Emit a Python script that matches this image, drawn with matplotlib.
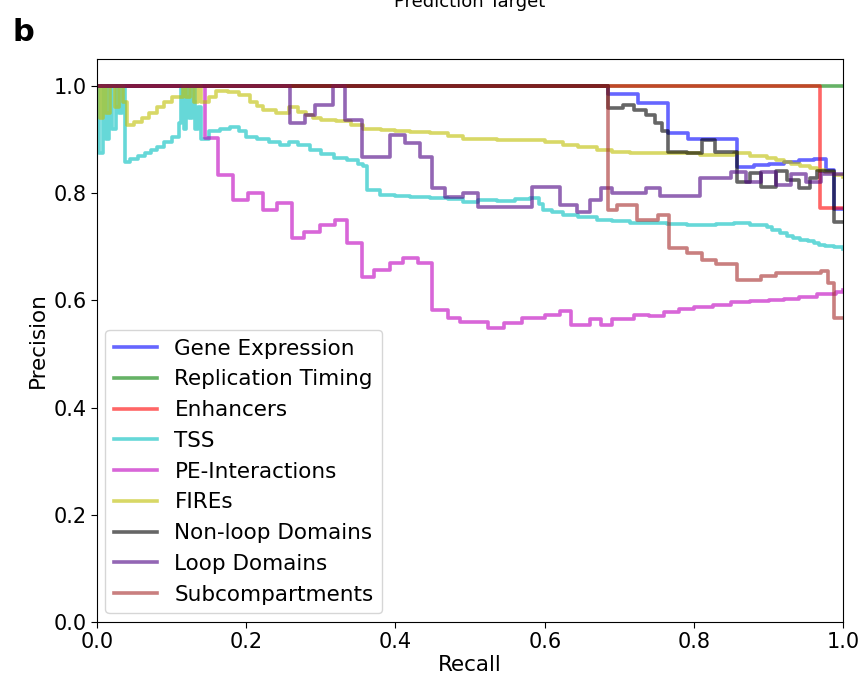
import matplotlib
matplotlib.use("Agg")
import matplotlib.pyplot as plt

labels = ["Gene Expression", "Replication Timing", "Enhancers", "TSS",
          "PE-Interactions", "FIREs", "Non-loop Domains", "Loop Domains",
          "Subcompartments"]
colors = ["b", "g", "r", "c", "m", "y", "k", "indigo", "brown"]

gene_r = [0, 0.685, 0.725, 0.765, 0.792, 0.858, 0.88, 0.90, 0.92, 0.94, 0.96, 0.977, 0.987, 1.0]
gene_p = [1.0, 0.984, 0.968, 0.912, 0.90, 0.849, 0.852, 0.855, 0.858, 0.861, 0.864, 0.843, 0.77, 0.77]

rep_r = [0, 1.0]
rep_p = [1.0, 1.0]

enh_r = [0, 0.969, 1.0]
enh_p = [1.0, 0.772, 0.772]

tss_r = [0, 0.003, 0.008, 0.012, 0.016, 0.02, 0.025, 0.03, 0.034, 0.037, 0.045, 0.055,
         0.065, 0.072, 0.08, 0.09, 0.10, 0.11, 0.113, 0.117, 0.12, 0.124, 0.128, 0.132,
         0.136, 0.14, 0.15, 0.165, 0.178, 0.19, 0.2, 0.214, 0.23, 0.245, 0.258, 0.27,
         0.285, 0.30, 0.318, 0.335, 0.35, 0.357, 0.362, 0.379, 0.40, 0.42, 0.446, 0.47,
         0.49, 0.51, 0.536, 0.56, 0.58, 0.592, 0.598, 0.61, 0.625, 0.645, 0.67, 0.69,
         0.714, 0.74, 0.764, 0.79, 0.808, 0.83, 0.853, 0.875, 0.898, 0.905, 0.915, 0.924,
         0.933, 0.942, 0.952, 0.96, 0.968, 0.975, 0.987, 1.0]
tss_p = [1.0, 0.875, 1.0, 0.9, 1.0, 0.92, 1.0, 0.95, 1.0, 0.858, 0.864, 0.87,
         0.875, 0.88, 0.885, 0.895, 0.905, 0.93, 1.0, 0.92, 1.0, 0.94, 1.0, 0.92,
         0.96, 0.9, 0.915, 0.92, 0.924, 0.915, 0.905, 0.9, 0.895, 0.89, 0.896, 0.89,
         0.88, 0.872, 0.866, 0.861, 0.855, 0.85, 0.806, 0.797, 0.795, 0.793, 0.79, 0.788,
         0.784, 0.787, 0.786, 0.788, 0.79, 0.78, 0.769, 0.765, 0.759, 0.755, 0.75, 0.747,
         0.744, 0.745, 0.742, 0.741, 0.74, 0.742, 0.744, 0.741, 0.737, 0.732, 0.726, 0.72,
         0.716, 0.713, 0.71, 0.707, 0.704, 0.702, 0.70, 0.695]

pe_r = [0, 0.145, 0.162, 0.183, 0.202, 0.223, 0.241, 0.261, 0.277, 0.299, 0.319, 0.335,
        0.355, 0.371, 0.393, 0.41, 0.43, 0.449, 0.47, 0.486, 0.524, 0.545, 0.57, 0.6,
        0.62, 0.635, 0.66, 0.675, 0.69, 0.72, 0.74, 0.76, 0.78, 0.8, 0.825, 0.85, 0.875,
        0.9, 0.92, 0.94, 0.965, 0.99, 1.0]
pe_p = [1.0, 0.903, 0.834, 0.787, 0.80, 0.769, 0.781, 0.716, 0.728, 0.74, 0.75, 0.707,
        0.644, 0.657, 0.67, 0.679, 0.67, 0.582, 0.567, 0.56, 0.548, 0.558, 0.567, 0.573,
        0.58, 0.554, 0.565, 0.553, 0.565, 0.573, 0.571, 0.578, 0.583, 0.588, 0.592, 0.597, 0.598,
        0.60, 0.603, 0.606, 0.611, 0.616, 0.62]

fires_r = [0, 0.004, 0.008, 0.012, 0.018, 0.024, 0.03, 0.035, 0.04, 0.05, 0.06, 0.07,
           0.08, 0.09, 0.10, 0.115, 0.12, 0.125, 0.13, 0.135, 0.14, 0.15, 0.16, 0.175,
           0.19, 0.205, 0.215, 0.223, 0.24, 0.258, 0.27, 0.28, 0.29, 0.30, 0.32, 0.34,
           0.357, 0.38, 0.40, 0.42, 0.446, 0.47, 0.49, 0.51, 0.536, 0.58, 0.6, 0.625,
           0.645, 0.67, 0.69, 0.714, 0.764, 0.808, 0.853, 0.875, 0.898, 0.91, 0.92, 0.93,
           0.942, 0.955, 0.965, 0.975, 0.987, 1.0]
fires_p = [1.0, 0.94, 1.0, 0.95, 1.0, 0.96, 1.0, 0.97, 0.927, 0.933, 0.94, 0.95,
           0.96, 0.97, 0.98, 1.0, 0.98, 1.0, 0.97, 1.0, 0.97, 0.98, 0.99, 0.988,
           0.983, 0.97, 0.962, 0.955, 0.95, 0.96, 0.952, 0.945, 0.94, 0.937, 0.935, 0.927,
           0.92, 0.917, 0.915, 0.913, 0.912, 0.906, 0.90, 0.9, 0.899, 0.899, 0.895, 0.89,
           0.885, 0.88, 0.877, 0.875, 0.875, 0.871, 0.875, 0.87, 0.866, 0.862, 0.858, 0.854,
           0.85, 0.846, 0.843, 0.839, 0.834, 0.83]

nonloop_r = [0, 0.685, 0.705, 0.72, 0.735, 0.748, 0.757, 0.765, 0.79, 0.81, 0.828, 0.858,
             0.875, 0.89, 0.91, 0.925, 0.94, 0.955, 0.965, 0.987, 1.0]
nonloop_p = [1.0, 0.959, 0.965, 0.955, 0.945, 0.93, 0.915, 0.877, 0.875, 0.899, 0.877, 0.82,
             0.838, 0.812, 0.842, 0.825, 0.81, 0.828, 0.842, 0.746, 0.746]

loop_r = [0, 0.259, 0.279, 0.292, 0.316, 0.333, 0.355, 0.393, 0.413, 0.433, 0.449, 0.466,
          0.49, 0.51, 0.583, 0.62, 0.643, 0.66, 0.675, 0.69, 0.735, 0.755, 0.808, 0.849,
          0.87, 0.89, 0.91, 0.93, 0.95, 0.97, 1.0]
loop_p = [1.0, 0.93, 0.945, 0.965, 1.0, 0.936, 0.868, 0.908, 0.893, 0.868, 0.81, 0.793,
          0.80, 0.774, 0.812, 0.778, 0.765, 0.787, 0.81, 0.80, 0.81, 0.795, 0.828, 0.84,
          0.82, 0.84, 0.815, 0.835, 0.82, 0.835, 0.835]

sub_r = [0, 0.685, 0.697, 0.724, 0.752, 0.766, 0.791, 0.81, 0.83, 0.858, 0.89, 0.91,
         0.97, 0.98, 0.987, 1.0]
sub_p = [1.0, 0.768, 0.778, 0.75, 0.759, 0.698, 0.688, 0.675, 0.668, 0.638, 0.645, 0.65,
         0.655, 0.632, 0.567, 0.567]

curves = [(gene_r, gene_p), (rep_r, rep_p), (enh_r, enh_p), (tss_r, tss_p),
          (pe_r, pe_p), (fires_r, fires_p), (nonloop_r, nonloop_p),
          (loop_r, loop_p), (sub_r, sub_p)]

fig = plt.figure(figsize=(8.65, 6.83), dpi=100)
ax = fig.add_axes([0.112, 0.0893, 0.863, 0.8243])

for (r, p), lab, col in zip(curves, labels, colors):
    ax.step(r, p, where="post", color=col, alpha=0.6, lw=2.6, label=lab)

ax.set_xlim(0, 1.0)
ax.set_ylim(0, 1.05)
ax.set_xticks([0, 0.2, 0.4, 0.6, 0.8, 1.0])
ax.set_yticks([0, 0.2, 0.4, 0.6, 0.8, 1.0])
ax.tick_params(labelsize=15, length=4)
ax.set_xlabel("Recall", fontsize=15.5, labelpad=2)
ax.set_ylabel("Precision", fontsize=15.5, labelpad=4)
ax.legend(loc="lower left", fontsize=15.5, borderaxespad=0.4)

fig.text(0.543, 1 - 7 / 683, "Prediction Target", ha="center", va="baseline", fontsize=13)
fig.text(0.014, 0.94, "b", fontsize=22, fontweight="bold")

fig.savefig("out.png", dpi=100)
